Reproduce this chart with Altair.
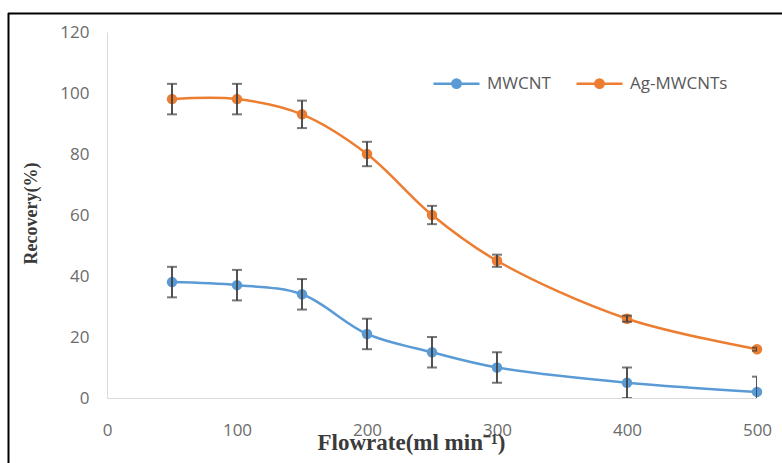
import altair as alt
import pandas as pd

# ---- data ----
flowrate = [50, 100, 150, 200, 250, 300, 400, 500]
mwcnt = [38, 37, 34, 21, 15, 10, 5, 2]
mwcnt_err = [5, 5, 5, 5, 5, 5, 5, 5]
ag_mwcnts = [98, 98, 93, 80, 60, 45, 26, 16]
ag_mwcnts_err = [5, 5, 4.5, 4, 3, 2, 1, 0.5]
series_names = ["MWCNT", "Ag-MWCNTs"]
series_colors = ["#5B9BD5", "#ED7D31"]
x_ticks = [0, 100, 200, 300, 400, 500]
y_ticks = [0, 20, 40, 60, 80, 100, 120]

rows = []
for name, vals, errs in [(series_names[0], mwcnt, mwcnt_err),
                         (series_names[1], ag_mwcnts, ag_mwcnts_err)]:
    for f, v, e in zip(flowrate, vals, errs):
        rows.append({"series": name, "flow": f, "value": v,
                     "lo": v - e, "hi": v + e})
df = pd.DataFrame(rows)

W, H = 650, 366
PAD_L, PAD_T = 107, 32

x_enc = alt.X("flow:Q",
              scale=alt.Scale(domain=[0, 500], nice=False, zero=False),
              axis=alt.Axis(values=x_ticks, title="Flowrate(ml min\u207b\u00b9)",
                            labelFlush=False,
                            titleX=304, titleY=51, titleBaseline="alphabetic",
                            titleAnchor="start", titleAlign="center",
                            titleFontSize=23))
y_scale = alt.Scale(domain=[0, 120], nice=False)
y_axis = alt.Axis(values=y_ticks, title="Recovery(%)",
                  titleX=-76, titleY=181, titleBaseline="middle",
                  titleAngle=-90, titleAlign="center")

color_scale = alt.Scale(domain=series_names, range=series_colors)

sym_path = ("M-1,0L1,0M0.18,0A0.18,0.18,0,1,1,-0.18,0"
            "A0.18,0.18,0,1,1,0.18,0Z")

legend = alt.Legend(
    title=None, orient="none", direction="horizontal",
    legendX=325, legendY=27,
    symbolType=sym_path, symbolSize=2116,
    symbolStrokeWidth=2.5, labelOffset=6,
    columnPadding=20, padding=0, symbolOpacity=1,
    labelFont="Open Sans", labelFontSize=17,
    labelColor="#595959")

base = alt.Chart(df)

line = base.mark_line(interpolate="catmull-rom", strokeWidth=2.5).encode(
    x=x_enc,
    y=alt.Y("value:Q", scale=y_scale, axis=y_axis),
    stroke=alt.Stroke("series:N", scale=color_scale, sort=series_names,
                      legend=legend),
)

points = base.mark_point(filled=True, size=110, opacity=1).encode(
    x="flow:Q",
    y=alt.Y("value:Q", scale=y_scale),
    fill=alt.Fill("series:N", scale=color_scale, sort=series_names,
                  legend=legend),
)

err_rule = base.mark_rule(color="#404040", strokeWidth=1.8, clip=True).encode(
    x="flow:Q",
    y=alt.Y("lo:Q", scale=y_scale),
    y2="hi:Q",
)
cap_hi = base.mark_tick(color="#404040", orient="horizontal", size=10,
                        thickness=2, clip=True).encode(
    x="flow:Q", y=alt.Y("hi:Q", scale=y_scale))
cap_lo = base.mark_tick(color="#404040", orient="horizontal", size=10,
                        thickness=2, clip=True).encode(
    x="flow:Q", y=alt.Y("lo:Q", scale=y_scale))

one = alt.Chart(pd.DataFrame({"d": [0]}))
border_top = one.mark_rule(color="#000000", strokeWidth=2).encode(
    x=alt.value(-99), x2=alt.value(700), y=alt.value(-18.5))
border_left = one.mark_rule(color="#000000", strokeWidth=2).encode(
    x=alt.value(-98.5), y=alt.value(-19), y2=alt.value(460))

chart = alt.layer(
    line, points, err_rule, cap_hi, cap_lo, border_top, border_left
).properties(
    width=W, height=H,
    autosize=alt.AutoSizeParams(type="none"),
    padding={"left": PAD_L, "top": PAD_T, "right": 25, "bottom": 65},
    background="white",
).configure_view(
    stroke=None
).configure_axis(
    grid=False, ticks=False, domainColor="#d9d9d9", domainWidth=1,
    labelFont="Open Sans", labelFontSize=17, labelColor="#6b6b6b",
    titleFont="Liberation Serif", titleFontSize=18, titleFontWeight="bold",
    titleColor="#3a3a3a",
).configure_axisY(
    labelPadding=18,
).configure_axisX(
    labelPadding=24,
)

chart.save("out.html", embed_options={"renderer": "svg", "actions": False})
